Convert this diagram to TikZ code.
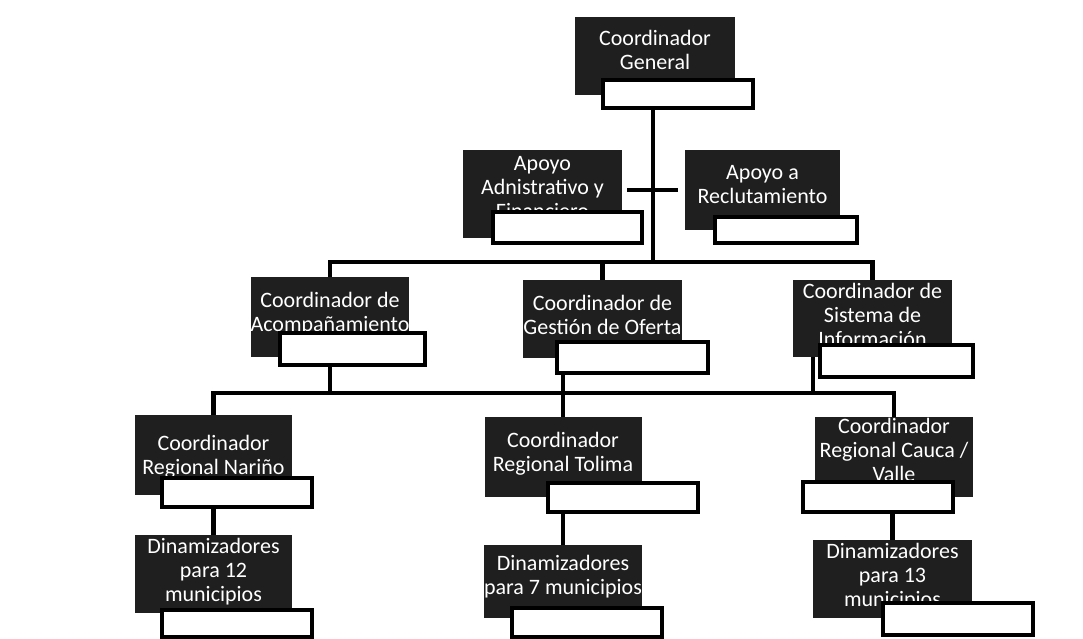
\documentclass[tikz,border=0pt]{standalone}
\usepackage{fontspec}
\setmainfont{Carlito}
\newcommand\rotulo[2]{\raisebox{#1}[\height][\depth]{\begin{tabular}{@{}c@{}}#2\end{tabular}}}
\begin{document}
\begin{tikzpicture}[x=1pt,y=-1pt]
	\tikzstyle{every node}+=[inner sep=0pt]
	\tikzstyle{cargo}=[fill=black!88, text=white, font=\fontsize{22}{24}\selectfont]
	\tikzstyle{ficha}=[draw=black, line width=3.5pt, fill=white]
	\tikzstyle{linea}=[black, line width=4.5pt]
	\useasboundingbox (0,0) rectangle (1083,639);
	\node [cargo, minimum width=160pt, minimum height=78pt] (cg) at (655,56) {\rotulo{3pt}{Coordinador\\General}};
	\node [ficha, minimum width=150pt, minimum height=28pt] (cgw) at (678,94) {};
	\node [cargo, minimum width=159pt, minimum height=88pt] (ada) at (542.5,194) {\rotulo{4pt}{Apoyo\\Adnistrativo y\\Financiero}};
	\node [ficha, minimum width=149pt, minimum height=31pt] (adaw) at (567.5,227.5) {};
	\node [cargo, minimum width=155pt, minimum height=80pt] (apr) at (762.5,190) {\rotulo{3pt}{Apoyo a\\Reclutamiento}};
	\node [ficha, minimum width=142pt, minimum height=26pt] (aprw) at (786,230) {};
	\node [cargo, minimum width=156pt, minimum height=80pt] (aco) at (330,317) {\rotulo{2pt}{Coordinador de\\Acompañamiento}};
	\node [ficha, minimum width=145pt, minimum height=32pt] (acow) at (352.5,349) {};
	\node [cargo, minimum width=159pt, minimum height=78pt] (ges) at (602.5,319) {\rotulo{1pt}{Coordinador de\\Gestión de Oferta}};
	\node [ficha, minimum width=151pt, minimum height=31pt] (gesw) at (632.5,357.5) {};
	\node [cargo, minimum width=159pt, minimum height=77pt] (sis) at (872.5,318.5) {\rotulo{1pt}{Coordinador de\\Sistema de\\Información}};
	\node [ficha, minimum width=153pt, minimum height=32pt] (sisw) at (896.5,361) {};
	\node [cargo, minimum width=157pt, minimum height=80pt] (nar) at (213.5,455) {\rotulo{-3pt}{Coordinador\\Regional Nariño}};
	\node [ficha, minimum width=150pt, minimum height=29pt] (narw) at (237,492.5) {};
	\node [cargo, minimum width=157pt, minimum height=80pt] (tol) at (563,457) {\rotulo{2pt}{Coordinador\\Regional Tolima}};
	\node [ficha, minimum width=150pt, minimum height=29pt] (tolw) at (623,497.5) {};
	\node [cargo, minimum width=158pt, minimum height=80pt] (cau) at (894,457) {\rotulo{4pt}{Coordinador\\Regional Cauca /\\Valle}};
	\node [ficha, minimum width=150pt, minimum height=30pt] (cauw) at (878,497) {};
	\node [cargo, minimum width=157pt, minimum height=78pt] (din12) at (213.5,574) {\rotulo{1pt}{Dinamizadores\\para 12\\municipios}};
	\node [ficha, minimum width=150pt, minimum height=27pt] (din12w) at (237,623.5) {};
	\node [cargo, minimum width=157pt, minimum height=73pt] (din7) at (563,581.5) {\rotulo{4pt}{Dinamizadores\\para 7 municipios}};
	\node [ficha, minimum width=150pt, minimum height=29pt] (din7w) at (587,622.5) {};
	\node [cargo, minimum width=159pt, minimum height=78pt] (din13) at (892.5,579) {\rotulo{1pt}{Dinamizadores\\para 13\\municipios}};
	\node [ficha, minimum width=150pt, minimum height=32pt] (din13w) at (958,619) {};
	\coordinate (bus1) at (653,262);
	\coordinate (bus2) at (563,393);
	\coordinate (sisr) at ([xshift=20pt]sis.south west);
	\draw [linea] (cgw.south -| bus1) -- (bus1);
	\draw [linea, shorten <=5pt, shorten >=7pt] (ada.east |- apr.west) -- (apr.west);
	\draw [linea] (aco.north) -- (aco.north |- bus1) -- (sis.north |- bus1) -- (sis.north);
	\draw [linea] (ges.north) -- (ges.north |- bus1);
	\draw [linea] (acow.south -| aco.south) -- (aco.south |- bus2);
	\draw [linea] (sisr) -- (sisr |- bus2);
	\draw [linea] (nar.north) -- (nar.north |- bus2) -- (cau.north |- bus2) -- (cau.north);
	\draw [linea] (gesw.south -| tol.north) -- (tol.north);
	\draw [linea] (narw.south -| din12.north) -- (din12.north);
	\draw [linea] (tolw.south -| din7.north) -- (din7.north);
	\draw [linea] (cauw.south -| din13.north) -- (din13.north);
\end{tikzpicture}
\end{document}
